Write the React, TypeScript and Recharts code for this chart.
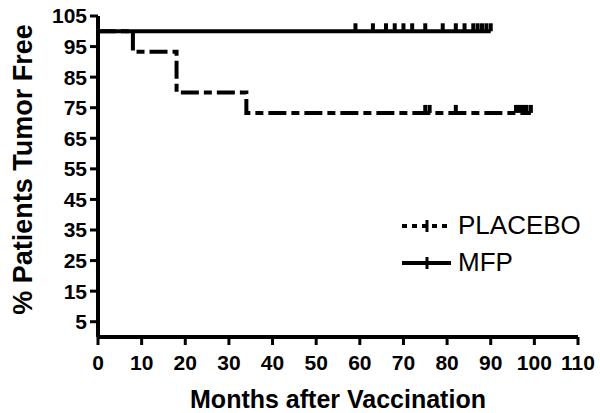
import React from "react";
import { LineChart, Line, XAxis, YAxis, Legend } from "recharts";

// Kaplan-Meier steps (months, % tumor free, 1 = censored)
const placeboMonths = [0, 8, 18, 34, 75, 76, 82, 95.8, 96.6, 97.4, 98.2, 99.2];
const placeboFree = [100, 93.3, 80, 73.3, 73.3, 73.3, 73.3, 73.3, 73.3, 73.3, 73.3, 73.3];
const placeboCensored = [0, 0, 0, 0, 1, 1, 1, 1, 1, 1, 1, 1];

const mfpMonths = [0, 59, 63, 66, 68, 70, 72, 75, 79, 82, 84, 86, 87, 88, 89, 90];
const mfpFree = [100, 100, 100, 100, 100, 100, 100, 100, 100, 100, 100, 100, 100, 100, 100, 100];
const mfpCensored = [0, 1, 1, 1, 1, 1, 1, 1, 1, 1, 1, 1, 1, 1, 1, 1];

const xTicks = [0, 10, 20, 30, 40, 50, 60, 70, 80, 90, 100, 110];
const yTicks = [5, 15, 25, 35, 45, 55, 65, 75, 85, 95, 105];

const placeboData = placeboMonths.map((m, i) => ({ m, s: placeboFree[i], c: placeboCensored[i] }));
const mfpData = mfpMonths.map((m, i) => ({ m, s: mfpFree[i], c: mfpCensored[i] }));

const FONT = "Arial, 'Liberation Sans', sans-serif";

const censorDot = (props: any) => {
  const { cx, cy, payload, index } = props;
  if (!payload || !payload.c) return <g key={"n" + index} />;
  return <rect key={"c" + index} x={cx - 2} y={cy - 8} width={4} height={8} fill="#000" />;
};

const YLabel = (props: any) => {
  const vb = props.viewBox || { x: 0, y: 0, height: 0 };
  const x = vb.x + 23;
  const y = vb.y + vb.height / 2 - 7;
  return (
    <text
      x={x}
      y={y}
      transform={`rotate(-90, ${x}, ${y})`}
      textAnchor="middle"
      dominantBaseline="central"
      fontFamily={FONT}
      fontWeight="bold"
      fontSize={27}
      fill="#000"
    >
      % Patients Tumor Free
    </text>
  );
};

const LegendBox = () => {
  const rows = [
    { name: "PLACEBO", dash: "5 5" },
    { name: "MFP", dash: undefined },
  ];
  return (
    <div style={{ fontFamily: FONT, fontSize: 26, color: "#000" }}>
      {rows.map((r) => (
        <div key={r.name} style={{ display: "flex", alignItems: "center", height: 37 }}>
          <svg width={56} height={20}>
            <line x1={0} y1={10} x2={49} y2={10} stroke="#000" strokeWidth={4} strokeDasharray={r.dash} />
            <rect x={23.5} y={4} width={3} height={12} fill="#000" />
          </svg>
          <span>{r.name}</span>
        </div>
      ))}
    </div>
  );
};

export default function App() {
  return (
    <div style={{ position: "absolute", left: 0, top: 0, background: "#fff" }}>
      <LineChart width={600} height={413} margin={{ top: 16, right: 22, left: 0, bottom: 0 }}>
        <XAxis
          dataKey="m"
          type="number"
          domain={[0, 110]}
          ticks={xTicks}
          interval={0}
          height={76}
          tickSize={8}
          tickMargin={10}
          axisLine={{ stroke: "#000", strokeWidth: 4 }}
          tickLine={{ stroke: "#000", strokeWidth: 3 }}
          tick={{ fill: "#000", fontSize: 21, fontWeight: "bold", fontFamily: FONT }}
          label={{
            value: "Months after Vaccination",
            position: "insideBottom",
            offset: 5,
            fill: "#000",
            fontSize: 25,
            fontWeight: "bold",
            fontFamily: FONT,
          }}
        />
        <YAxis
          type="number"
          domain={[0, 105]}
          ticks={yTicks}
          interval={0}
          width={98}
          tickSize={8}
          tickMargin={3}
          axisLine={{ stroke: "#000", strokeWidth: 4 }}
          tickLine={{ stroke: "#000", strokeWidth: 3 }}
          tick={{ fill: "#000", fontSize: 21, fontWeight: "bold", fontFamily: FONT }}
          label={<YLabel />}
        />
        <Legend
          layout="vertical"
          verticalAlign="middle"
          align="center"
          wrapperStyle={{ left: 402, top: 207, width: 198 }}
          content={<LegendBox />}
        />
        <Line
          data={placeboData}
          dataKey="s"
          name="PLACEBO"
          type="stepAfter"
          stroke="#000"
          strokeWidth={4}
          strokeDasharray="18 5 8 5"
          dot={censorDot}
          activeDot={false}
          isAnimationActive={false}
        />
        <Line
          data={mfpData}
          dataKey="s"
          name="MFP"
          type="stepAfter"
          stroke="#000"
          strokeWidth={4}
          dot={censorDot}
          activeDot={false}
          isAnimationActive={false}
        />
      </LineChart>
    </div>
  );
}
